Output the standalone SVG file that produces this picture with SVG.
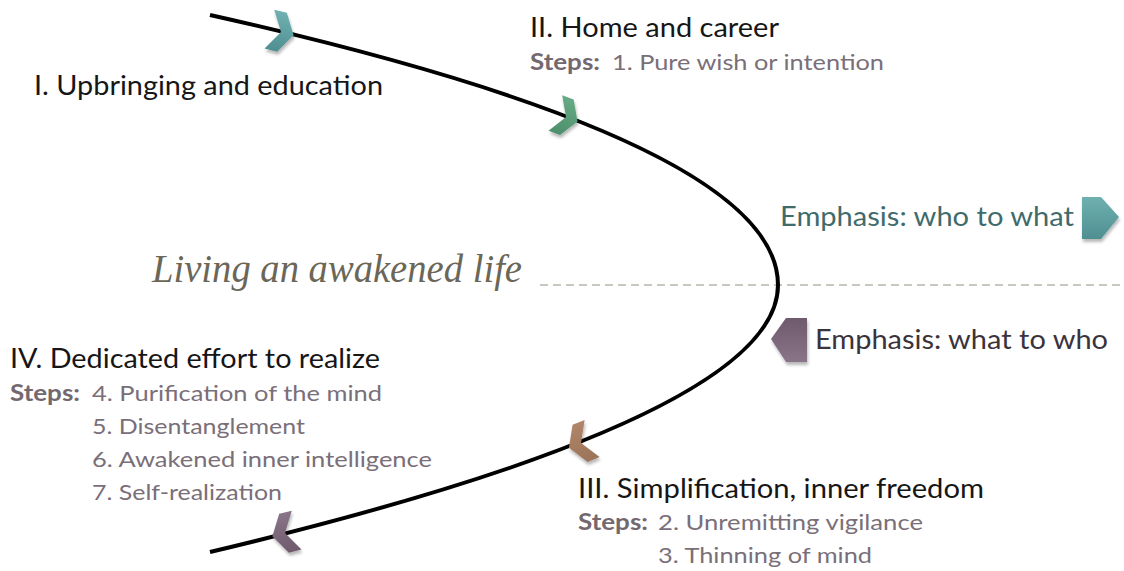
<svg xmlns="http://www.w3.org/2000/svg" xmlns:xlink="http://www.w3.org/1999/xlink" width="1124" height="571" viewBox="0 0 1124 571">
  <style>
    .head { font-family: Lato, "Open Sans", "Liberation Sans", sans-serif; font-size: 27px; fill: #161616; }
    .lbl { font-family: Lato, "Open Sans", "Liberation Sans", sans-serif; font-size: 22px; fill: #7a6f79; }
    .lblb { font-family: Lato, "Open Sans", "Liberation Sans", sans-serif; font-size: 22px; font-weight: bold; fill: #74686f; }
    .emph { font-family: Lato, "Open Sans", "Liberation Sans", sans-serif; font-size: 27px; }
    .script { font-family: "Liberation Serif", "DejaVu Serif", serif; font-style: italic; font-size: 40px; fill: #6b6758; }
    .path { fill: none; stroke: #000000; stroke-width: 4; }
    .axis { fill: none; stroke: #b9b5aa; stroke-width: 1.5; stroke-dasharray: 8 5; }
  </style>
  <defs>
    <filter id="shadow" x="-30%" y="-30%" width="160%" height="170%">
      <feDropShadow dx="1" dy="3" stdDeviation="1.5" flood-color="#000000" flood-opacity="0.28"/>
    </filter>
    <linearGradient id="gTeal" x1="0" y1="0" x2="0" y2="1">
      <stop offset="0" stop-color="#6fb0b1"/>
      <stop offset="1" stop-color="#4f8f91"/>
    </linearGradient>
    <linearGradient id="gGreen" x1="0" y1="0" x2="0" y2="1">
      <stop offset="0" stop-color="#66ab85"/>
      <stop offset="1" stop-color="#4d8f6c"/>
    </linearGradient>
    <linearGradient id="gBrown" x1="0" y1="0" x2="0" y2="1">
      <stop offset="0" stop-color="#9b7459"/>
      <stop offset="1" stop-color="#b08468"/>
    </linearGradient>
    <linearGradient id="gPurple" x1="0" y1="0" x2="0" y2="1">
      <stop offset="0" stop-color="#6e5a6c"/>
      <stop offset="1" stop-color="#8a7488"/>
    </linearGradient>
    <!-- chevron pointing along +x, notch at the origin -->
    <path id="chev" d="M -12,-20 L 1,-20 L 13,0 L 1,20 L -12,20 L 0,0 Z"/>
  </defs>

  <rect width="1124" height="571" fill="#ffffff"/>

  <!-- connectors: the life path and the turning axis -->
  <g id="connectors">
    <line class="axis" x1="540" y1="285" x2="1124" y2="285"/>
    <path class="path" d="M 210,15 Q 778,142 778,285 Q 778,417 210,552"/>
  </g>

  <!-- direction chevrons on the path -->
  <g id="chevron-1" filter="url(#shadow)">
    <use xlink:href="#chev" href="#chev" fill="url(#gTeal)" transform="translate(281,32) rotate(14)"/>
  </g>
  <g id="chevron-2" filter="url(#shadow)">
    <use xlink:href="#chev" href="#chev" fill="url(#gGreen)" transform="translate(566,117) rotate(21) scale(0.95)"/>
  </g>
  <g id="chevron-3" filter="url(#shadow)">
    <use xlink:href="#chev" href="#chev" fill="url(#gBrown)" transform="translate(581,443) rotate(158)"/>
  </g>
  <g id="chevron-4" filter="url(#shadow)">
    <use xlink:href="#chev" href="#chev" fill="url(#gPurple)" transform="translate(285,533) rotate(166)"/>
  </g>

  <!-- stage I -->
  <g id="stage-1">
    <text class="head" x="34" y="95" textLength="349" lengthAdjust="spacingAndGlyphs">I. Upbringing and education</text>
  </g>

  <!-- stage II -->
  <g id="stage-2">
    <text class="head" x="530" y="37" textLength="249" lengthAdjust="spacingAndGlyphs">II. Home and career</text>
    <text class="lblb" x="530" y="70" textLength="70" lengthAdjust="spacingAndGlyphs">Steps:</text>
    <text class="lbl" x="612" y="70" textLength="272" lengthAdjust="spacingAndGlyphs">1. Pure wish or intention</text>
  </g>

  <!-- emphasis outward -->
  <g id="emphasis-out">
    <text class="emph" x="780" y="226" fill="#3f6b6c" textLength="294" lengthAdjust="spacingAndGlyphs">Emphasis: who to what</text>
    <path d="M 1082,197 L 1101,197 L 1119,217 L 1101,239 L 1082,239 Z" fill="url(#gTeal)" filter="url(#shadow)"/>
  </g>

  <!-- emphasis inward -->
  <g id="emphasis-in">
    <text class="emph" x="815" y="349" fill="#3b333c" textLength="293" lengthAdjust="spacingAndGlyphs">Emphasis: what to who</text>
    <path d="M 807,318 L 786,318 L 771,339 L 786,362 L 807,362 Z" fill="url(#gPurple)" filter="url(#shadow)"/>
  </g>

  <!-- title -->
  <g id="title">
    <text class="script" x="152" y="282" textLength="370" lengthAdjust="spacingAndGlyphs">Living an awakened life</text>
  </g>

  <!-- stage IV -->
  <g id="stage-4">
    <text class="head" x="10" y="368" textLength="370" lengthAdjust="spacingAndGlyphs">IV. Dedicated effort to realize</text>
    <text class="lblb" x="10" y="401" textLength="70" lengthAdjust="spacingAndGlyphs">Steps:</text>
    <text class="lbl" x="92" y="401" textLength="290" lengthAdjust="spacingAndGlyphs">4. Purification of the mind</text>
    <text class="lbl" x="92" y="434" textLength="213" lengthAdjust="spacingAndGlyphs">5. Disentanglement</text>
    <text class="lbl" x="92" y="467" textLength="340" lengthAdjust="spacingAndGlyphs">6. Awakened inner intelligence</text>
    <text class="lbl" x="92" y="500" textLength="190" lengthAdjust="spacingAndGlyphs">7. Self-realization</text>
  </g>

  <!-- stage III -->
  <g id="stage-3">
    <text class="head" x="578" y="498" textLength="406" lengthAdjust="spacingAndGlyphs">III. Simplification, inner freedom</text>
    <text class="lblb" x="578" y="530" textLength="70" lengthAdjust="spacingAndGlyphs">Steps:</text>
    <text class="lbl" x="658" y="530" textLength="265" lengthAdjust="spacingAndGlyphs">2. Unremitting vigilance</text>
    <text class="lbl" x="658" y="563" textLength="214" lengthAdjust="spacingAndGlyphs">3. Thinning of mind</text>
  </g>
</svg>
